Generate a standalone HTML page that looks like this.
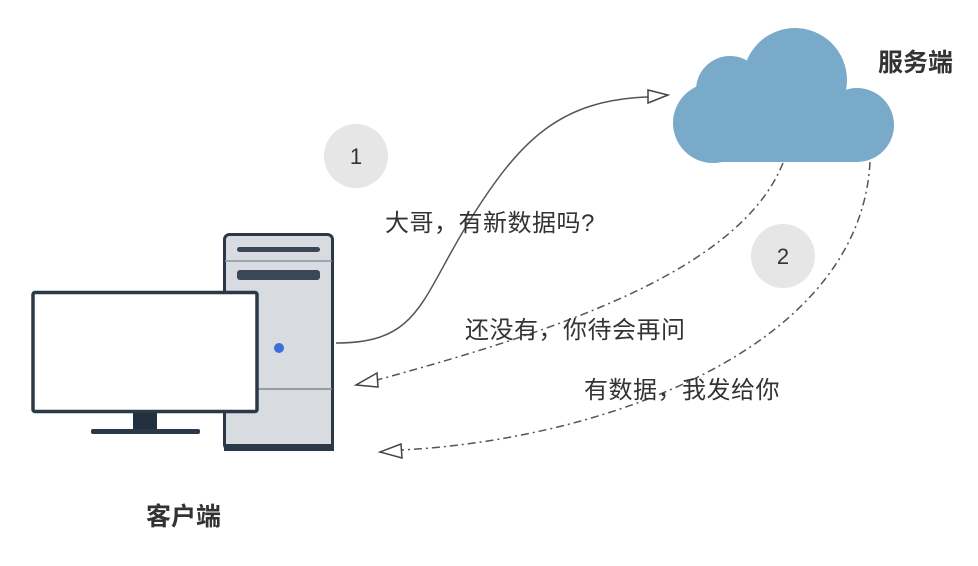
<!DOCTYPE html>
<html><head><meta charset="utf-8"><style>
body{margin:0;background:#fff;}
svg{display:block}
text{font-family:"Liberation Sans","Noto Sans CJK SC",sans-serif;fill:#333}
.l{font-size:24px;letter-spacing:0.5px}
.b{font-size:25px;font-weight:bold}
</style></head><body>
<svg width="978" height="566" viewBox="0 0 978 566">
<g fill="#7aaac9">
<circle cx="795" cy="80" r="52"/>
<circle cx="730" cy="90" r="34"/>
<circle cx="713" cy="123" r="40"/>
<circle cx="857" cy="125" r="37"/>
<rect x="713" y="90" width="145" height="72"/>
</g>
<text x="878" y="71" class="b">服务端</text>
<rect x="224.5" y="234.5" width="108" height="215" rx="5" fill="#d8dbe0" stroke="#2b3848" stroke-width="3"/>
<rect x="224" y="444" width="110" height="7" fill="#2b3848"/>
<line x1="225" y1="261" x2="332" y2="261" stroke="#8a949c" stroke-width="1.5"/>
<line x1="225" y1="389" x2="332" y2="389" stroke="#7f8a88" stroke-width="1.5"/>
<rect x="237" y="247" width="83" height="5" rx="2.5" fill="#3a4757"/>
<rect x="237" y="270" width="83" height="10" rx="3" fill="#3a4757"/>
<circle cx="279" cy="348" r="5" fill="#3a70d8"/>
<rect x="33" y="292.5" width="224" height="119" rx="2" fill="#fff" stroke="#2b3848" stroke-width="3.5"/>
<rect x="133" y="413" width="24" height="17" fill="#22303f"/>
<rect x="91" y="429" width="109" height="5" rx="2" fill="#2b3848"/>
<text x="146" y="525" class="b">客户端</text>
<path d="M336,343 C420,343 420,300 470,220 C520,140 560,100 648,97" fill="none" stroke="#555" stroke-width="1.5"/>
<path d="M648,90 L668,95 L648,103 Z" fill="#fff" stroke="#444" stroke-width="1.5"/>
<path d="M783,163 C740,270 560,330 377,380" fill="none" stroke="#555" stroke-width="1.5" stroke-dasharray="8,4,2,4"/>
<path d="M377,373 L356,385 L378,387 Z" fill="#fff" stroke="#444" stroke-width="1.5"/>
<path d="M870,162 C860,350 600,440 401,450" fill="none" stroke="#555" stroke-width="1.5" stroke-dasharray="8,4,2,4"/>
<path d="M401,444 L380,452 L402,458 Z" fill="#fff" stroke="#444" stroke-width="1.5"/>
<circle cx="356" cy="156" r="32" fill="#e6e6e6"/>
<text x="356" y="164" font-size="22" text-anchor="middle">1</text>
<circle cx="783" cy="256" r="32" fill="#e6e6e6"/>
<text x="783" y="264" font-size="22" text-anchor="middle">2</text>
<text x="385" y="231" class="l">大哥，有新数据吗?</text>
<text x="465" y="338" class="l">还没有，你待会再问</text>
<text x="584" y="398" class="l">有数据，我发给你</text>
</svg>
</body></html>
